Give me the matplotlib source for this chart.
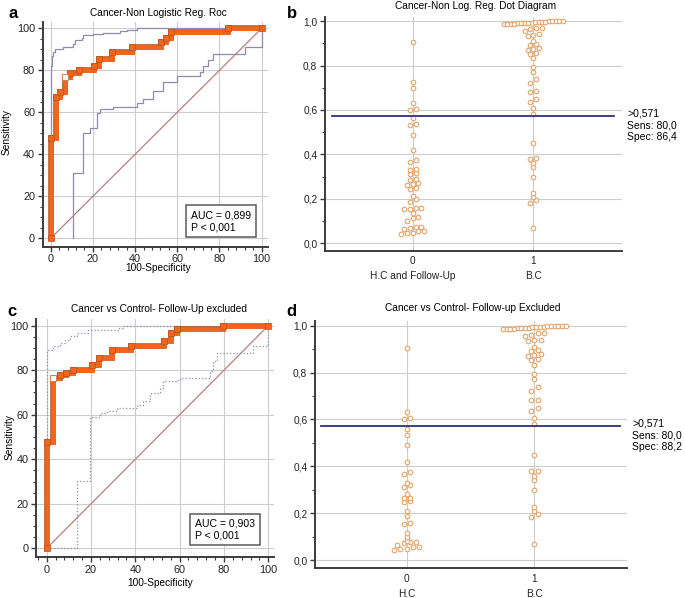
import numpy as np
import matplotlib
matplotlib.use("Agg")
import matplotlib.pyplot as plt
import matplotlib.patheffects as pe
from matplotlib.ticker import MultipleLocator, FuncFormatter

plt.rcParams["font.family"] = ["Liberation Sans", "DejaVu Sans"]
plt.rcParams["font.size"] = 7.3

# ---- ROC a: 100-specificity / sensitivity at each jump (step 'post') ----
roc_a_x = [0, 0, 2.3, 4.5, 6.8, 9.1, 13.6, 20.5, 22.7, 28.9, 38.6, 52.3, 54.5, 57.0, 84.1, 100]
roc_a_y = [0, 47.8, 67.4, 69.6, 76.9, 78.9, 80.0, 82.2, 85.6, 88.9, 91.1, 93.3, 95.6, 98.3, 100, 100]
opt_a = (6.8, 76.9)
up_a_x = [0, 0, 0.5, 1.2, 2.0, 5.8, 10.7, 11.5, 14.6, 15.4, 20.0, 24.7, 33.0, 36.0, 41.0, 100]
up_a_y = [0, 82.0, 87.0, 88.9, 90.0, 91.0, 92.5, 94.4, 95.2, 96.7, 97.4, 97.8, 98.7, 99.4, 100, 100]
lo_a_x = [10.7, 10.7, 15.2, 18.6, 21.8, 23.4, 29.7, 40.8, 43.9, 48.7, 53.4, 59.7, 70.8, 72.4, 74.7, 77.1, 92.1, 100]
lo_a_y = [0, 31.0, 50.0, 52.4, 59.5, 61.4, 62.7, 64.3, 66.2, 70.0, 74.6, 77.3, 79.4, 82.0, 85.0, 88.0, 91.3, 100]

# ---- ROC c ----
roc_c_x = [0, 0, 2.9, 5.9, 8.8, 11.8, 20.6, 23.5, 29.4, 38.2, 52.9, 55.9, 58.8, 79.4, 100]
roc_c_y = [0, 47.8, 76.7, 77.8, 78.9, 80.0, 82.2, 85.6, 88.9, 91.1, 93.3, 96.7, 98.3, 100, 100]
opt_c = (2.9, 76.7)
up_c_x = [0, 0, 3.0, 6.0, 8.3, 10.5, 13.5, 18.8, 32.3, 34.6, 100]
up_c_y = [0, 89.2, 90.7, 92.2, 93.5, 95.2, 96.7, 97.9, 99.0, 100, 100]
lo_c_x = [0, 13.8, 19.5, 24.1, 27.1, 31.6, 40.6, 43.6, 46.6, 51.1, 52.6, 58.6, 60.2, 73.7, 75.2, 76.7, 93.2, 100]
lo_c_y = [0, 30.4, 59.2, 60.7, 61.5, 63.0, 64.5, 66.0, 69.7, 72.0, 75.0, 75.7, 76.5, 79.5, 84.0, 87.7, 90.7, 100]

# ---- dot diagrams (predicted probability) ----
hc_fu_b = [0.904, 0.727, 0.697, 0.633, 0.600, 0.604, 0.562, 0.532, 0.535, 0.487, 0.420,
           0.365, 0.376, 0.330, 0.334, 0.313, 0.316, 0.285, 0.290, 0.264, 0.268, 0.272,
           0.245, 0.250, 0.213, 0.187, 0.198, 0.153, 0.153, 0.157, 0.157, 0.135, 0.102,
           0.112, 0.117, 0.064, 0.067, 0.075, 0.075, 0.042, 0.048, 0.048, 0.057, 0.057]
hc_d = [0.906, 0.633, 0.602, 0.605, 0.559, 0.535, 0.489, 0.420, 0.366, 0.375, 0.327,
        0.310, 0.320, 0.284, 0.263, 0.267, 0.246, 0.250, 0.210, 0.188, 0.154, 0.159,
        0.117, 0.100, 0.083, 0.064, 0.071, 0.078, 0.078, 0.043, 0.046, 0.046, 0.054, 0.054]
bc = [0.067, 0.183, 0.195, 0.210, 0.228, 0.300, 0.342, 0.360, 0.378, 0.382, 0.450,
      0.582, 0.607, 0.637, 0.648, 0.682, 0.684, 0.723, 0.738, 0.772, 0.795, 0.832,
      0.853, 0.856, 0.871, 0.873, 0.878, 0.892, 0.897, 0.910, 0.933, 0.937, 0.940,
      0.956, 0.962, 0.967, 0.968,
      0.985, 0.986, 0.987, 0.988, 0.989, 0.990, 0.991, 0.992, 0.993, 0.994, 0.995,
      0.996, 0.997, 0.998, 0.998, 0.999, 0.999, 1.000]
cutoff = 0.571

W, H = 685, 598
fig = plt.figure(figsize=(6.85, 5.98), dpi=100)


def rect(l, t, r, b):
    return [l / W, 1 - b / H, (r - l) / W, (b - t) / H]


def ftext(x, y, s, **kw):
    fig.text(x / W, 1 - y / H, s, ha=kw.pop("ha", "center"), va=kw.pop("va", "center"), **kw)


SPINE = "#3c3c3c"
GRID = "#cdcdcd"
ORANGE = "#f0661f"
ORANGE_EDGE = "#b9501c"
BAND = "#8f8cae"
DIAG = "#b77f7f"
DOT = "#e4a469"
CUT = "#2f2f80"


def style(ax):
    for s in ["top", "right"]:
        ax.spines[s].set_visible(False)
    for s in ["left", "bottom"]:
        ax.spines[s].set_color(SPINE)
        ax.spines[s].set_linewidth(1.4)
    ax.tick_params(which="major", length=3.5, width=1, color=SPINE, pad=2, labelcolor="#222")
    ax.tick_params(which="minor", length=2, width=0.8, color=SPINE)
    ax.set_axisbelow(True)


def roc(ax, xlim, rx, ry, opt, ux, uy, lx, ly, band_ls, auc, box_xy):
    style(ax)
    ax.set_xlim(*xlim)
    ax.set_ylim(-4, 103)
    ax.xaxis.set_major_locator(MultipleLocator(20))
    ax.yaxis.set_major_locator(MultipleLocator(20))
    ax.xaxis.set_minor_locator(MultipleLocator(4))
    ax.yaxis.set_minor_locator(MultipleLocator(5))
    ax.tick_params(labelsize=7.8)
    ax.grid(True, color=GRID, lw=0.8)
    ax.plot([0, 100], [0, 100], color=DIAG, lw=0.9, zorder=2)
    ax.step(ux, uy, where="post", color=BAND, lw=0.9, ls=band_ls, zorder=2)
    ax.step(lx, ly, where="post", color=BAND, lw=0.9, ls=band_ls, zorder=2)
    ax.step(rx, ry, where="post", color=ORANGE, lw=3.3, zorder=3,
            solid_joinstyle="miter", solid_capstyle="projecting",
            path_effects=[pe.Stroke(linewidth=4.0, foreground=ORANGE_EDGE), pe.Normal()])
    ax.plot(rx, ry, "s", ms=4.0, mfc=ORANGE, mec=ORANGE_EDGE, mew=0.5, zorder=4)
    ax.plot(*opt, "s", ms=4.0, mfc="white", mec="#c9834f", mew=0.7, zorder=5)
    ax.text(box_xy[0], box_xy[1], f"AUC = {auc}\nP < 0,001", transform=ax.transAxes,
            fontsize=7.6, va="bottom", ha="left", linespacing=1.25, zorder=6,
            bbox=dict(boxstyle="square,pad=0.45", fc="white", ec="#5a5a5a", lw=1.1))


def swarm(vals, center, dx, width=0.49, row_h=0.016):
    v = np.sort(np.asarray(vals, dtype=float))
    xs = np.empty_like(v)
    i = 0
    while i < len(v):
        j = i
        while j + 1 < len(v) and v[j + 1] - v[i] <= row_h:
            j += 1
        n = j - i + 1
        step = dx if n == 1 else min(dx, width / (n - 1))
        xs[i:j + 1] = center + (np.arange(n) - (n - 1) / 2) * step
        i = j + 1
    return xs, v


def dots(ax, xlim, ylim, groups, labels, dx, sens_spec):
    style(ax)
    ax.set_xlim(*xlim)
    ax.set_ylim(*ylim)
    ax.set_yticks(np.arange(0, 1.01, 0.2))
    ax.yaxis.set_minor_locator(MultipleLocator(0.1))
    ax.yaxis.set_major_formatter(FuncFormatter(lambda v, p: f"{v:.1f}".replace(".", ",")))
    ax.set_xticks([0, 1])
    ax.set_xticklabels([f"{i}\n{lab}" for i, lab in enumerate(labels)], linespacing=1.6)
    ax.tick_params(axis="x", length=0, pad=4)
    ax.grid(True, color=GRID, lw=0.8)
    for k, vals in enumerate(groups):
        xs, ys = swarm(vals, k, dx)
        ax.plot(xs, ys, "o", ms=3.3, mfc="white", mec=DOT, mew=0.8, zorder=4)
    ax.plot([-0.67, 1.67], [cutoff, cutoff], color=CUT, lw=1.3, zorder=5)
    ax.annotate(f">0,571\nSens: {sens_spec[0]}\nSpec: {sens_spec[1]}",
                xy=(1.0, cutoff), xycoords=("axes fraction", "data"),
                xytext=(4, 5.5), textcoords="offset points", va="top", ha="left",
                fontsize=7.5, linespacing=1.2, annotation_clip=False)


# a
ax_a = fig.add_axes(rect(42.7, 22, 268, 246.7))
roc(ax_a, (-3.8, 103), roc_a_x, roc_a_y, opt_a, up_a_x, up_a_y, lo_a_x, lo_a_y,
    "-", "0,899", (0.657, 0.065))
# b
ax_b = fig.add_axes(rect(325, 16.6, 621.7, 250.7))
dots(ax_b, (-0.727, 1.733), (-0.033, 1.02), [hc_fu_b, bc], ["H.C and Follow-Up", "B.C"],
     0.048, ("80,0", "86,4"))
# c
ax_c = fig.add_axes(rect(36, 319, 274, 557.3))
roc(ax_c, (-4.8, 102.6), roc_c_x, roc_c_y, opt_c, up_c_x, up_c_y, lo_c_x, lo_c_y,
    ":", "0,903", (0.668, 0.07))
# d
ax_d = fig.add_axes(rect(315, 321, 626.7, 568.3))
dots(ax_d, (-0.719, 1.724), (-0.035, 1.02), [hc_d, bc], ["H.C", "B.C"],
     0.05, ("80,0", "88,2"))

# titles, axis labels, panel letters
ftext(158, 12.7, "Cancer-Non Logistic Reg. Roc")
ftext(475.5, 6, "Cancer-Non Log. Reg. Dot Diagram")
ftext(159, 309.3, "Cancer vs Control- Follow-Up excluded")
ftext(472.5, 308.3, "Cancer vs Control- Follow-up Excluded")
ftext(158.3, 268.3, "100-Specificity")
ftext(160, 582.7, "100-Specificity")
ftext(6.7, 131.7, "Sensitivity", rotation=90)
ftext(9.3, 436.7, "Sensitivity", rotation=90)
ftext(13, 13, "a", fontsize=12, fontweight="bold")
ftext(291.5, 13, "b", fontsize=12, fontweight="bold")
ftext(11.5, 311, "c", fontsize=12, fontweight="bold")
ftext(291.5, 311, "d", fontsize=12, fontweight="bold")

fig.savefig("out.png", dpi=100)
